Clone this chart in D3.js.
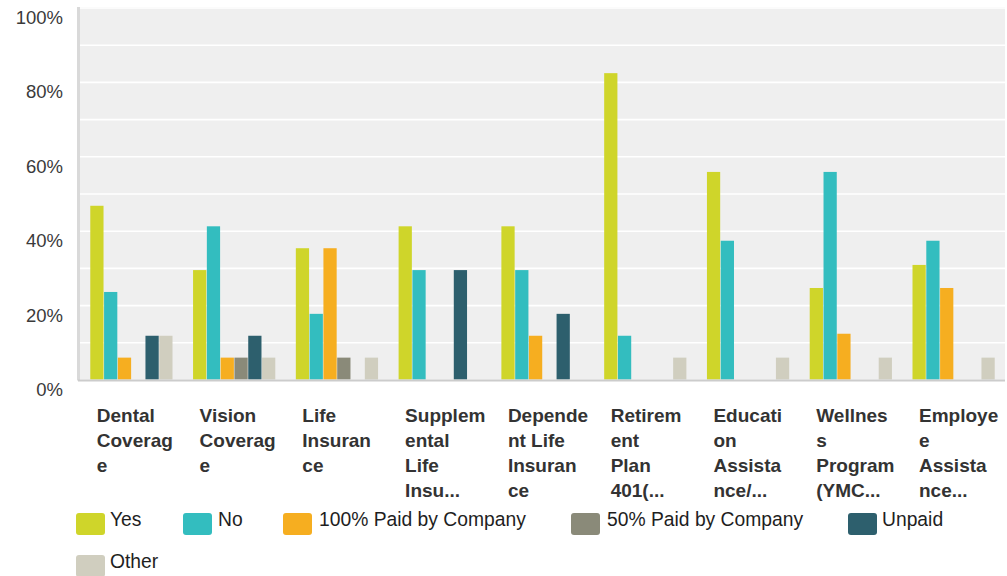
<!DOCTYPE html>
<html>
<head>
<meta charset="utf-8">
<script src="https://cdn.jsdelivr.net/npm/d3@7"></script>
<style>
  html, body { margin: 0; padding: 0; background: #ffffff; }
  svg { display: block; font-family: "Liberation Sans", Arial, Helvetica, sans-serif; }
</style>
</head>
<body>
<svg id="chart" width="1007" height="576"></svg>
<script>
// Benefit categories (full names) and the wrapped label lines shown under each group
const categories = [
  "Dental Coverage", "Vision Coverage", "Life Insurance",
  "Supplemental Life Insurance", "Dependent Life Insurance",
  "Retirement Plan 401(k)", "Education Assistance/Tuition",
  "Wellness Program (YMCA)", "Employee Assistance Program"
];
const categoryLabelLines = [
  ["Dental", "Coverag", "e"],
  ["Vision", "Coverag", "e"],
  ["Life", "Insuran", "ce"],
  ["Supplem", "ental", "Life", "Insu..."],
  ["Depende", "nt Life", "Insuran", "ce"],
  ["Retirem", "ent", "Plan", "401(..."],
  ["Educati", "on", "Assista", "nce/..."],
  ["Wellnes", "s", "Program", "(YMC..."],
  ["Employe", "e", "Assista", "nce..."]
];

// Response categories (series) and their colours
const seriesNames = ["Yes", "No", "100% Paid by Company", "50% Paid by Company", "Unpaid", "Other"];
const seriesColors = ["#cfd52a", "#33bdbf", "#f6ae20", "#8a8a79", "#2d5f6d", "#d0cebf"];

// Percent of respondents, one array per series, in category order
const yesValues     = [46.7, 29.41, 35.29, 41.18, 41.18, 82.35, 55.8, 24.6, 30.8];
const noValues      = [23.53, 41.18, 17.65, 29.41, 29.41, 11.76, 37.3, 55.8, 37.3];
const paid100Values = [5.88, 5.88, 35.29, 0, 11.76, 0, 0, 12.3, 24.6];
const paid50Values  = [0, 5.88, 5.88, 0, 0, 0, 0, 0, 0];
const unpaidValues  = [11.76, 11.76, 0, 29.41, 17.65, 0, 0, 0, 0];
const otherValues   = [11.76, 5.88, 5.88, 0, 0, 5.88, 5.88, 5.88, 5.88];

const yTickValues = [0, 20, 40, 60, 80, 100];

const seriesValues = [yesValues, noValues, paid100Values, paid50Values, unpaidValues, otherValues];
const rows = categories.map((c, i) => ({
  category: c,
  lines: categoryLabelLines[i],
  values: seriesNames.map((s, j) => ({ series: s, value: seriesValues[j][i], color: seriesColors[j] }))
}));

const svg = d3.select("#chart");
const plot = { left: 80, right: 1005, top: 7.5, bottom: 379.5 };

const x0 = d3.scaleBand()
  .domain(categories)
  .range([plot.left, plot.right])
  .paddingInner(0.2)
  .paddingOuter(0.1);

const x1 = d3.scaleBand()
  .domain(seriesNames)
  .range([0, x0.bandwidth()])
  .paddingInner(0.04);

const y = d3.scaleLinear().domain([0, 100]).range([plot.bottom, plot.top]);

// Plot background
svg.append("rect")
  .attr("x", plot.left).attr("y", plot.top - 0.5)
  .attr("width", plot.right - plot.left).attr("height", plot.bottom - plot.top + 0.5)
  .attr("fill", "#efefef");

// White gridlines every 10%
const grid = svg.append("g")
  .attr("transform", `translate(${plot.left},0)`)
  .call(d3.axisLeft(y).tickValues(d3.range(10, 101, 10)).tickSize(-(plot.right - plot.left)).tickFormat(""));
grid.select(".domain").remove();
grid.selectAll(".tick line").attr("stroke", "#ffffff").attr("stroke-width", 1.6);

// Y axis labels
const yAxis = svg.append("g")
  .attr("transform", `translate(${plot.left - 17},0)`)
  .call(d3.axisLeft(y).tickValues(yTickValues).tickSize(0).tickPadding(0).tickFormat(d => d + "%"));
yAxis.select(".domain").remove();
yAxis.selectAll("text")
  .attr("dy", null)
  .attr("y", 16)
  .attr("font-size", 18.5)
  .attr("font-family", "Liberation Sans, Arial, sans-serif")
  .attr("fill", "#3a3a3a");

// Bars
const groups = svg.append("g").selectAll("g")
  .data(rows)
  .join("g")
  .attr("transform", d => `translate(${x0(d.category)},0)`);

groups.selectAll("rect")
  .data(d => d.values)
  .join("rect")
  .attr("x", d => x1(d.series))
  .attr("width", x1.bandwidth())
  .attr("y", d => y(d.value))
  .attr("height", d => y(0) - y(d.value))
  .attr("fill", d => d.color);

// Axis lines
svg.append("line")
  .attr("x1", plot.left - 1.5).attr("x2", plot.left - 1.5)
  .attr("y1", plot.top - 0.5).attr("y2", plot.bottom + 1)
  .attr("stroke", "#d9d9d9").attr("stroke-width", 3);
svg.append("line")
  .attr("x1", plot.left - 2).attr("x2", plot.right)
  .attr("y1", plot.bottom + 1).attr("y2", plot.bottom + 1)
  .attr("stroke", "#cccccc").attr("stroke-width", 2);

// Category labels, wrapped over several lines
const xAxis = svg.append("g")
  .attr("transform", `translate(0,${plot.bottom})`)
  .call(d3.axisBottom(x0).tickSize(0).tickFormat(""));
xAxis.select(".domain").remove();
xAxis.selectAll(".tick text").remove();
xAxis.selectAll(".tick").each(function(cat) {
  const row = rows.find(r => r.category === cat);
  const t = d3.select(this).append("text")
    .attr("x", -x0.bandwidth() / 2 + 6.5)
    .attr("y", 42)
    .attr("text-anchor", "start")
    .attr("font-size", 19)
    .attr("font-weight", "bold")
    .attr("font-family", "Liberation Sans, Arial, sans-serif")
    .attr("fill", "#333333");
  row.lines.forEach((line, i) => {
    t.append("tspan")
      .attr("x", -x0.bandwidth() / 2 + 6.5)
      .attr("dy", i === 0 ? 0 : 25.3)
      .text(line);
  });
});

// Legend
const legendSlots = [
  { x: 76, y: 513, gap: 34 }, { x: 183, y: 513, gap: 35 }, { x: 283, y: 513, gap: 36 },
  { x: 571, y: 513, gap: 36 }, { x: 848, y: 513, gap: 34 }, { x: 76, y: 555, gap: 34 }
];
const legend = svg.append("g").selectAll("g")
  .data(seriesNames)
  .join("g")
  .attr("transform", (d, i) => `translate(${legendSlots[i].x},${legendSlots[i].y})`);
legend.append("rect")
  .attr("width", 29).attr("height", 22)
  .attr("rx", 3).attr("ry", 3)
  .attr("fill", (d, i) => seriesColors[i]);
legend.append("text")
  .attr("x", (d, i) => legendSlots[i].gap).attr("y", 13)
  .attr("font-size", 19.3)
  .attr("font-family", "Liberation Sans, Arial, sans-serif")
  .attr("fill", "#1e1e1e")
  .text(d => d);
</script>
</body>
</html>
